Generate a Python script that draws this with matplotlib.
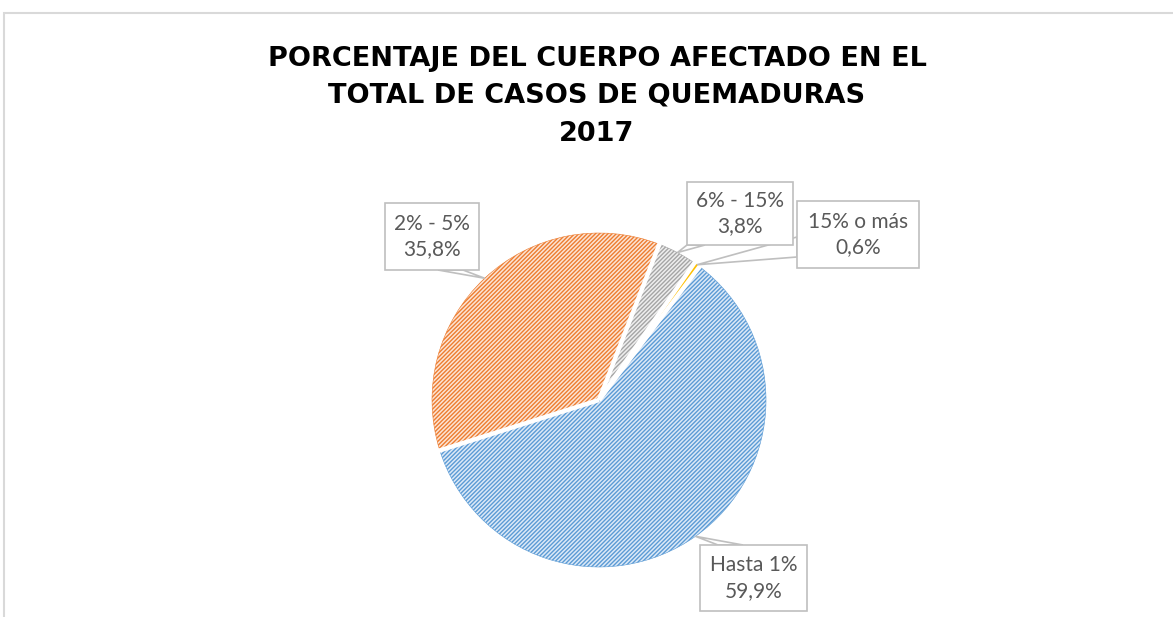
import numpy as np
import matplotlib.pyplot as plt
from matplotlib.patches import Rectangle, Polygon

# data
categories = ['Hasta 1%', '2% - 5%', '6% - 15%', '15% o más']
values = [59.9, 35.8, 3.8, 0.6]
title_lines = ['PORCENTAJE DEL CUERPO AFECTADO EN EL',
               'TOTAL DE CASOS DE QUEMADURAS',
               '2017']

# style
bg_colors = ['#dce9f7', '#fce4d4', '#eeeeee', '#ffc000']
stripe_colors = ['#5b9bd5', '#ed7d31', '#a5a5a5', '#ffc000']

W, H = 1173, 617


def fy(y):
    # pixel row (from top) -> data y
    return H - y


plt.rcParams['hatch.linewidth'] = 1.0

fig = plt.figure(figsize=(W / 100, H / 100), dpi=100)
ax = fig.add_axes([0, 0, 1, 1])

center = (599, fy(400))
radius = 167

wedges, _ = ax.pie(values, colors=bg_colors, startangle=53, counterclock=False,
                   center=center, radius=radius,
                   wedgeprops=dict(linewidth=0.4))
for w, sc in zip(wedges, stripe_colors):
    w.set_hatch('////////')
    w.set_edgecolor(sc)

# white separators between slices
for w in wedges:
    a = np.radians(w.theta1)
    ax.plot([center[0], center[0] + (radius + 2) * np.cos(a)],
            [center[1], center[1] + (radius + 2) * np.sin(a)],
            color='white', linewidth=3.2, solid_capstyle='butt', zorder=2)

ax.set_xlim(0, W)
ax.set_ylim(0, H)
ax.set_aspect('equal')
ax.axis('off')

# outer chart frame
ax.add_patch(Rectangle((4, fy(640)), 1200, 627, fill=False,
                       edgecolor='#d9d9d9', linewidth=1.5, clip_on=False))

# title
title_y = [59, 96, 134]
for line, ty in zip(title_lines, title_y):
    ax.text(597, fy(ty), line, ha='center', va='center', fontsize=19.5,
            fontweight='bold', family='DejaVu Sans', color='black')

# data label boxes (left, top, right, bottom in pixels) and callout bases
boxes = [(700, 545, 807, 611), (385, 203, 479, 270),
         (687, 182, 793, 245), (797, 201, 919, 268)]
bases = [((718, 545), (743, 545)), ((438, 270), (463, 270)),
         ((687, 245), (705, 245)), ((797, 237), (797, 257))]

for w, cat, val, box, base in zip(wedges, categories, values, boxes, bases):
    mid = np.radians((w.theta1 + w.theta2) / 2)
    apex = (w.center[0] + w.r * np.cos(mid), w.center[1] + w.r * np.sin(mid))
    tri = [apex, (base[0][0], fy(base[0][1])), (base[1][0], fy(base[1][1]))]
    ax.add_patch(Polygon(tri, closed=True, fill=False, edgecolor='#bfbfbf',
                         linewidth=1.2, zorder=3))
    x0, y0, x1, y1 = box
    ax.add_patch(Rectangle((x0, fy(y1)), x1 - x0, y1 - y0, facecolor='white',
                           edgecolor='#bfbfbf', linewidth=1.2, zorder=4))
    label = cat + '\n' + f'{val:.1f}'.replace('.', ',') + '%'
    ax.text((x0 + x1) / 2, fy((y0 + y1) / 2), label, ha='center', va='center',
            fontsize=15, family='Lato', color='#595959', linespacing=1.35,
            zorder=5)

fig.savefig('out.png', dpi=100, facecolor='white')
